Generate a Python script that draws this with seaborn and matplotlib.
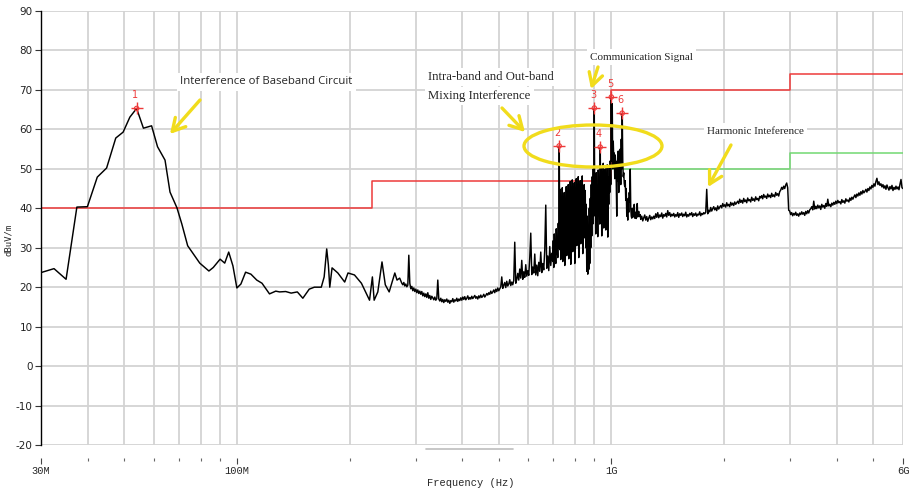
import numpy as np
import pandas as pd
import matplotlib
matplotlib.use("Agg")
import matplotlib.pyplot as plt
import seaborn as sns
from matplotlib.patches import Ellipse
from matplotlib.lines import Line2D
from matplotlib.ticker import FixedLocator, FixedFormatter, NullFormatter

# ---------------- data (frequency in MHz, level in dBuV/m) ----------------
low_freq = [30, 32.5, 35.0, 37.4, 39.9, 42.4, 44.9, 47.5, 49.7, 51.8, 54.0, 56.3, 59.2,
            61.4, 64.3, 66.3, 69.2, 71.3, 73.9, 79.6, 84.2, 86.5, 90.2, 92.8, 95.1, 97.6,
            100, 102.5, 105.5, 109, 113, 116.7, 122.2, 127, 130, 135, 139.6, 145, 150,
            156, 161, 168, 171, 173.7, 175.5, 177, 179.5, 186, 194, 198, 206, 215, 226,
            230, 232.5, 237.8, 244, 249, 255, 264, 267.6, 272]
low_level = [23.7, 24.7, 22.0, 40.3, 40.4, 47.9, 50.2, 57.8, 59.3, 63.1, 65.3, 60.3, 60.9,
             55.6, 52.2, 44.1, 40.1, 36.0, 30.5, 26.1, 24.1, 25.0, 27.1, 26.1, 28.9, 25.4,
             19.8, 20.8, 23.8, 23.3, 21.8, 21.0, 18.3, 19.0, 18.8, 18.9, 18.5, 18.8, 17.2,
             19.5, 20.0, 20.0, 22.6, 29.7, 25.6, 20.0, 24.9, 23.6, 21.3, 23.6, 23.1, 21.0, 16.7,
             22.6, 16.7, 18.8, 26.4, 20.6, 18.8, 23.6, 21.8, 22.3]

# dense sweep segments: start MHz, stop MHz (exclusive), levels
seg1_span = (275.6, 558.6)
seg1_level = [21.0, 20.6, 21.2, 20.3, 20.8, 20.1, 20.5,
              28.1, 21.0,
              19.6, 20.2, 19.1, 19.8, 18.9, 19.5, 18.6, 19.3, 18.4, 19.0,
              18.2, 18.9, 17.8, 18.5, 17.6, 18.3, 17.4, 18.6, 17.2, 17.9, 16.9, 17.7, 17.3, 16.8, 17.5, 16.7, 17.1,
              21.8,
              17.0, 16.5, 17.2, 16.3, 16.9, 16.1, 16.8, 16.4, 17.0, 16.2, 16.7, 15.9, 16.6, 16.3, 17.1, 16.2,
              16.8, 16.5, 17.2, 16.4, 17.0, 16.6,
              17.3, 16.7, 17.5, 16.9, 17.6, 16.8, 17.2, 17.8, 16.9, 17.4, 17.0, 17.7, 17.1, 17.5, 17.9, 17.2,
              17.6, 17.0, 17.8, 17.3, 18.0, 17.4, 17.7, 18.2, 17.5, 17.9, 18.4,
              18.0, 18.6, 18.2, 19.0, 18.4, 18.8, 19.3, 18.6, 19.5, 18.9, 19.8, 19.1, 19.6,
              20.1, 22.6, 19.7, 20.5, 21.2, 19.9, 21.5, 20.3, 20.8, 21.9, 20.4, 21.3, 20.6, 21.7,
              31.4, 21.0]

seg2_span = (558.6, 697.0)
seg2_level = [22.0, 23.5, 21.8, 24.6, 22.3, 26.8, 22.0, 23.9, 22.5, 25.7, 22.8, 24.2, 23.0, 27.5,
              33.7, 23.2, 25.1, 23.6, 28.4, 23.1, 25.6, 22.9, 26.3, 24.0, 28.9, 23.7, 26.0, 24.4,
              29.5, 40.8, 24.8, 27.9, 24.2, 30.3, 25.5, 28.6]

seg3_span = (697.0, 1197.0)
seg3_level = [26.5, 31.8, 25.0, 33.5, 27.2, 30.1, 26.0, 34.8, 28.3, 32.0, 27.5, 36.2,
              30.0, 55.8, 29.5, 44.8, 27.0, 41.5, 32.0, 45.2, 26.5, 38.0, 30.8, 44.0,
              25.5, 40.2, 33.0, 45.5, 28.0, 39.0, 34.5, 46.0, 27.2, 42.0, 31.5, 46.8,
              25.8, 40.5, 35.0, 47.2, 29.0, 43.5, 33.5, 46.5, 26.0, 41.0, 36.0, 47.5,
              30.5, 44.0, 34.0, 48.0, 27.5, 42.5, 37.0, 47.0, 31.0, 45.5, 35.5, 48.2,
              28.5, 43.0, 38.0, 46.0, 32.5, 44.5, 30.0, 41.0, 24.0, 38.0, 23.3, 35.0,
              24.5, 40.0, 26.0, 42.5, 30.0, 46.0, 33.0, 48.0, 36.0, 50.0, 38.0, 65.4,
              40.0, 47.5, 33.5, 49.0, 38.5, 45.0, 32.8, 49.7, 40.0, 44.5, 36.0, 55.5,
              38.7, 50.5, 33.0, 48.8, 40.5, 51.4, 35.0, 47.0, 42.0, 50.0, 34.5, 46.5,
              39.5, 51.0, 32.7, 48.0, 41.0, 50.5, 44.0, 52.0, 46.0, 68.2, 52.0, 66.5,
              50.0, 57.0, 52.5, 54.0, 47.5, 53.5, 51.0, 46.5, 38.0, 52.0, 47.0, 54.5,
              44.0, 53.0, 48.5, 55.0, 46.0, 57.5, 50.0, 64.1, 52.0, 48.0, 49.0, 46.3,
              45.5, 47.0, 42.0, 45.0, 38.0, 40.5, 37.0, 42.5, 39.0, 44.0, 41.5, 49.9,
              40.0, 38.0, 37.5, 40.0, 39.0, 37.8, 38.0, 41.0, 37.5, 39.0, 38.6, 37.4,
              39.0, 41.2, 37.8, 38.5, 39.2, 38.0, 37.9, 38.4]

seg4_span = (1197.0, 2990.0)
seg4_level = [37.2, 38.0, 36.8, 37.6, 38.3, 37.0, 37.9, 36.7, 37.5, 38.2, 37.1, 37.8, 37.3,
              38.0, 37.4, 38.6, 37.7, 38.9, 37.6, 38.3, 37.9, 38.8, 37.5, 38.4, 38.0, 38.7,
              37.8, 39.4, 38.2, 38.9, 37.9, 38.5, 38.1,
              38.7, 37.8, 38.4, 38.0, 38.9, 37.7, 38.6, 38.2, 38.8, 37.9, 38.5, 38.1, 39.0,
              37.8, 38.4, 38.0, 38.7, 38.3, 38.9, 37.9, 38.6, 38.2, 38.8, 38.0, 38.5, 38.3,
              39.1, 38.1, 38.7, 38.4, 38.9, 38.6, 39.0,
              44.8,
              38.6, 39.5, 39.1, 40.2, 39.3, 39.9, 40.4, 39.6, 40.1, 39.4, 40.6, 39.8, 40.3,
              40.7, 40.1, 41.2, 40.5, 40.9, 40.3, 41.4, 40.6, 41.0, 40.4, 41.5, 40.8, 41.3,
              40.7, 41.6, 41.0, 41.4,
              41.8, 41.2, 42.3, 41.5, 42.0, 41.3, 42.5, 41.7, 42.1, 41.4, 42.6, 41.9, 42.2,
              41.6, 42.8, 42.0, 42.4, 41.8, 42.9, 42.2, 42.5, 41.9, 43.0,
              42.6, 43.2, 42.4, 43.5, 42.8, 43.1, 42.5, 43.6, 42.9, 43.3, 42.7, 43.8, 43.0,
              43.4, 42.9, 44.0, 43.3, 43.7, 43.1, 44.2,
              44.6, 45.3, 44.8, 45.6, 45.0, 45.9, 46.4, 45.2, 39.5]

seg5_span = (2990.0, 6000.0)
seg5_level = [39.3, 38.4, 38.9, 38.1, 38.7, 38.3, 39.0, 38.2, 38.6, 38.0, 38.8, 38.4, 39.1,
              38.5, 38.9, 38.2, 39.2, 38.6, 39.4, 38.8, 39.6,
              39.9, 40.4, 39.6, 41.8, 39.8, 40.5, 39.9, 40.8, 40.1, 40.6, 39.7, 41.0, 40.3,
              40.7, 40.0, 41.2, 40.5, 42.3, 40.6, 41.0, 40.4, 41.3, 40.8,
              41.5, 41.0, 41.8, 41.2, 42.0, 41.4, 41.7, 41.1, 42.2, 41.5, 41.9, 41.3, 42.4,
              41.8, 42.1, 41.6, 42.6, 42.0, 42.8, 42.3,
              42.9, 43.4, 42.7, 43.6, 43.1, 43.9, 43.3, 44.2, 43.6, 44.5, 43.9, 44.3, 44.8,
              44.1, 45.0, 44.5, 45.4, 44.9, 45.8, 45.3,
              46.2, 45.6, 46.8, 47.6, 46.0, 46.7, 45.8,
              46.2, 45.4, 46.0, 45.1, 45.7, 44.8, 45.9, 45.2, 44.6, 45.5, 44.9, 45.8, 44.5,
              45.3, 44.8, 45.6, 44.9, 45.4, 44.7, 46.1, 47.3, 45.2, 45.0]

# limit lines (step edges)
red_limit_freq = [30, 230, 1000, 3000, 6000]
red_limit_level = [40, 47, 70, 74, 74]
green_limit_freq = [1000, 3000, 6000]
green_limit_level = [50, 54, 54]

# marked peaks
peak_freq = [54.0, 725, 900, 933, 999, 1068]
peak_level = [65.3, 55.8, 65.4, 55.5, 68.2, 64.1]
peak_label = ["1", "2", "3", "4", "5", "6"]

x_major = [30, 100, 1000, 6000]
x_major_labels = ["30M", "100M", "1G", "6G"]
x_minor = [40, 50, 60, 70, 80, 90, 200, 300, 400, 500, 600, 700, 800, 900, 2000, 3000, 4000, 5000]
y_ticks = list(range(-20, 91, 10))

# ---------------- assemble trace ----------------
segments = [(seg1_span, seg1_level), (seg2_span, seg2_level), (seg3_span, seg3_level),
            (seg4_span, seg4_level)]
freqs = [np.array(low_freq, dtype=float)]
levels = [np.array(low_level, dtype=float)]
for (f0, f1), lv in segments:
    freqs.append(np.geomspace(f0, f1, len(lv), endpoint=False))
    levels.append(np.array(lv, dtype=float))
freqs.append(np.geomspace(seg5_span[0], seg5_span[1], len(seg5_level)))
levels.append(np.array(seg5_level, dtype=float))
trace = pd.DataFrame({"freq": np.concatenate(freqs), "level": np.concatenate(levels)})

# ---------------- figure ----------------
sns.set_style("white")
plt.rcParams["font.family"] = ["DejaVu Sans"]
plt.rcParams["axes.unicode_minus"] = False

W, H = 909, 490
fig = plt.figure(figsize=(W / 100, H / 100), dpi=100)
ax = fig.add_axes([41 / W, 45 / H, 862 / W, 434 / H])
ax.set_xscale("log")
ax.set_xlim(30, 6000)
ax.set_ylim(-20, 90)

GRID = "#d3d3d3"
RED = "#ee3a3a"
GREEN = "#72d872"
YEL = "#f1dc1c"

# grid
ax.xaxis.set_major_locator(FixedLocator(x_major))
ax.xaxis.set_minor_locator(FixedLocator(x_minor))
ax.xaxis.set_major_formatter(FixedFormatter(x_major_labels))
ax.xaxis.set_minor_formatter(NullFormatter())
ax.yaxis.set_major_locator(FixedLocator(y_ticks))
ax.grid(True, which="both", axis="x", color=GRID, lw=1.3, zorder=0)
ax.grid(True, which="major", axis="y", color=GRID, lw=1.3, zorder=0)
ax.set_axisbelow(True)

# limits
sns.lineplot(x=red_limit_freq, y=red_limit_level, drawstyle="steps-post", color=RED,
             lw=1.1, estimator=None, sort=False, ax=ax, zorder=2)
sns.lineplot(x=green_limit_freq, y=green_limit_level, drawstyle="steps-post", color=GREEN,
             lw=1.1, estimator=None, sort=False, ax=ax, zorder=2)

# measurement trace
sns.lineplot(data=trace, x="freq", y="level", color="black", lw=1.05, estimator=None,
             sort=False, ax=ax, zorder=3)

# peak markers
sns.scatterplot(x=peak_freq, y=peak_level, marker="+", s=70, color=RED, linewidth=1.0,
                ax=ax, zorder=5)
ax.scatter(peak_freq, peak_level, s=10, facecolors="none", edgecolors=RED, linewidths=0.8,
           zorder=5)
for f, v, lab in zip(peak_freq, peak_level, peak_label):
    ax.annotate(lab, (f, v), xytext=(-1, 6), textcoords="offset points", ha="center",
                va="bottom", color=RED, fontsize=7, zorder=6)

# spines & ticks
for s in ["top", "right"]:
    ax.spines[s].set_visible(False)
ax.spines["left"].set_color("black")
ax.spines["left"].set_linewidth(1.0)
ax.spines["bottom"].set_position(("outward", 9))
ax.spines["bottom"].set_visible(False)
ax.tick_params(axis="y", which="major", left=True, direction="out", length=4, width=0.8,
               color="#333333", pad=2, labelsize=7.5, labelcolor="#222222")
ax.tick_params(axis="x", which="major", bottom=True, direction="out", length=4, width=0.8,
               color="#444444", pad=2, labelsize=7.5)
ax.tick_params(axis="x", which="minor", bottom=True, direction="out", length=2.5, width=0.8,
               color="#666666")
for t in ax.get_xticklabels():
    t.set_family("Liberation Mono")
ax.set_xlabel("")
ax.set_ylabel("")


def P(px, py):
    return (px / W, 1 - py / H)


fig.text(*P(8, 240), "dBuV/m", rotation=90, fontsize=6.5, family="DejaVu Sans Mono",
         ha="center", va="center")
fig.text(*P(471, 483), "Frequency (Hz)", fontsize=7.5, family="Liberation Mono",
         ha="center", va="center")

# scrollbar remnant under the axis
fig.add_artist(Line2D([426 / W, 513 / W], [1 - 449 / H] * 2, color="#bdbdbd", lw=1.2))

# annotations
box = dict(facecolor="white", edgecolor="none", pad=2.5)
fig.text(*P(180, 82), "Interference of Baseband Circuit", fontsize=8.2, family="Open Sans",
         ha="left", va="center", bbox=box, zorder=7)
fig.text(*P(428, 77), "Intra-band and Out-band", fontsize=9.2, family="Liberation Serif",
         ha="left", va="center", bbox=box, zorder=7)
fig.text(*P(428, 96), "Mixing Interference", fontsize=9.2, family="Liberation Serif",
         ha="left", va="center", bbox=box, zorder=7)
fig.text(*P(590, 57), "Communication Signal", fontsize=8.0, family="Liberation Serif",
         ha="left", va="center", bbox=box, zorder=7)
fig.text(*P(707, 131), "Harmonic Inteference", fontsize=8.0, family="Liberation Serif",
         ha="left", va="center", bbox=box, zorder=7)

arrow = dict(arrowstyle="->,head_length=0.9,head_width=0.5", color=YEL, lw=2.4,
             shrinkA=0, shrinkB=0)
for tail, tip in [((200, 100), (170, 134)), ((502, 108), (525, 132)),
                  ((598, 67), (591, 89)), ((731, 145), (708, 187))]:
    ax.annotate("", xy=P(*tip), xytext=P(*tail), xycoords="figure fraction",
                textcoords="figure fraction", arrowprops=arrow, zorder=8)

ax.add_patch(Ellipse(((593 - 41) / 862, (445 - 146) / 434), 138 / 862, 42 / 434,
                     transform=ax.transAxes, fill=False, ec=YEL, lw=2.4, clip_on=False,
                     zorder=8))

fig.savefig("out.png", dpi=100)
